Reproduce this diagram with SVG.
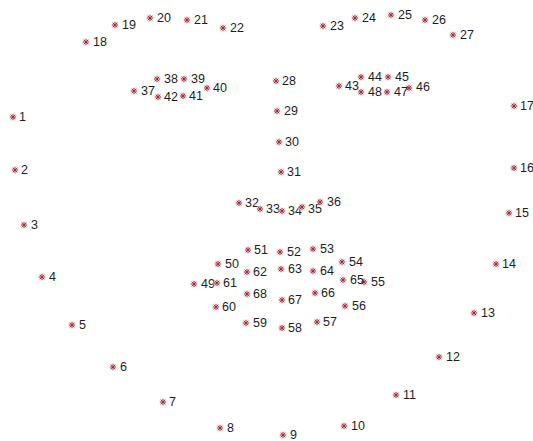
<svg xmlns="http://www.w3.org/2000/svg" xmlns:xlink="http://www.w3.org/1999/xlink" width="533" height="441" viewBox="0 0 533 441">
<style>
text{font-family:"Liberation Sans",Arial,sans-serif;font-size:12.5px;fill:#1e1e1e}
.m line{stroke:#9a2a3c;stroke-width:0.9}
</style>
<defs>
<g id="m" class="m">
<circle r="3.8" fill="#f3c9cf" opacity="0.6"/>
<line x1="-3" y1="0" x2="3" y2="0"/>
<line x1="0" y1="-3" x2="0" y2="3"/>
<line x1="-2.2" y1="-2.2" x2="2.2" y2="2.2"/>
<line x1="-2.2" y1="2.2" x2="2.2" y2="-2.2"/>
</g>
</defs>
<rect width="533" height="441" fill="#fff"/>
<g id="p1"><use xlink:href="#m" x="13" y="117"/><text x="19" y="121">1</text></g>
<g id="p2"><use xlink:href="#m" x="15" y="170"/><text x="21" y="174">2</text></g>
<g id="p3"><use xlink:href="#m" x="24" y="225"/><text x="31" y="229">3</text></g>
<g id="p4"><use xlink:href="#m" x="42" y="277"/><text x="49" y="281">4</text></g>
<g id="p5"><use xlink:href="#m" x="72" y="325"/><text x="79" y="329">5</text></g>
<g id="p6"><use xlink:href="#m" x="113" y="367"/><text x="120" y="371">6</text></g>
<g id="p7"><use xlink:href="#m" x="163" y="402"/><text x="169" y="406">7</text></g>
<g id="p8"><use xlink:href="#m" x="220" y="428"/><text x="227" y="432">8</text></g>
<g id="p9"><use xlink:href="#m" x="283" y="435"/><text x="290" y="439">9</text></g>
<g id="p10"><use xlink:href="#m" x="344" y="426"/><text x="351" y="430">10</text></g>
<g id="p11"><use xlink:href="#m" x="396" y="395"/><text x="403" y="399">11</text></g>
<g id="p12"><use xlink:href="#m" x="439" y="357"/><text x="446" y="361">12</text></g>
<g id="p13"><use xlink:href="#m" x="474" y="313"/><text x="481" y="317">13</text></g>
<g id="p14"><use xlink:href="#m" x="496" y="264"/><text x="502" y="268">14</text></g>
<g id="p15"><use xlink:href="#m" x="509" y="213"/><text x="515" y="217">15</text></g>
<g id="p16"><use xlink:href="#m" x="514" y="168"/><text x="520" y="172">16</text></g>
<g id="p17"><use xlink:href="#m" x="514" y="106"/><text x="520" y="110">17</text></g>
<g id="p18"><use xlink:href="#m" x="86" y="42"/><text x="93" y="46">18</text></g>
<g id="p19"><use xlink:href="#m" x="115" y="25"/><text x="122" y="29">19</text></g>
<g id="p20"><use xlink:href="#m" x="150" y="18"/><text x="157" y="22">20</text></g>
<g id="p21"><use xlink:href="#m" x="187" y="20"/><text x="194" y="24">21</text></g>
<g id="p22"><use xlink:href="#m" x="223" y="28"/><text x="230" y="32">22</text></g>
<g id="p23"><use xlink:href="#m" x="323" y="26"/><text x="330" y="30">23</text></g>
<g id="p24"><use xlink:href="#m" x="355" y="18"/><text x="362" y="22">24</text></g>
<g id="p25"><use xlink:href="#m" x="391" y="15"/><text x="398" y="19">25</text></g>
<g id="p26"><use xlink:href="#m" x="425" y="20"/><text x="432" y="24">26</text></g>
<g id="p27"><use xlink:href="#m" x="453" y="35"/><text x="460" y="39">27</text></g>
<g id="p28"><use xlink:href="#m" x="276" y="81"/><text x="282" y="85">28</text></g>
<g id="p29"><use xlink:href="#m" x="277" y="111"/><text x="284" y="115">29</text></g>
<g id="p30"><use xlink:href="#m" x="279" y="142"/><text x="285" y="146">30</text></g>
<g id="p31"><use xlink:href="#m" x="281" y="172"/><text x="287" y="176">31</text></g>
<g id="p32"><use xlink:href="#m" x="239" y="203"/><text x="245" y="207">32</text></g>
<g id="p33"><use xlink:href="#m" x="260" y="209"/><text x="266" y="213">33</text></g>
<g id="p34"><use xlink:href="#m" x="282" y="211"/><text x="288" y="215">34</text></g>
<g id="p35"><use xlink:href="#m" x="302" y="207"/><text x="308" y="213">35</text></g>
<g id="p36"><use xlink:href="#m" x="320" y="202"/><text x="327" y="206">36</text></g>
<g id="p37"><use xlink:href="#m" x="134" y="91"/><text x="141" y="95">37</text></g>
<g id="p38"><use xlink:href="#m" x="157" y="79"/><text x="164" y="83">38</text></g>
<g id="p39"><use xlink:href="#m" x="184" y="79"/><text x="191" y="83">39</text></g>
<g id="p40"><use xlink:href="#m" x="207" y="88"/><text x="213" y="92">40</text></g>
<g id="p41"><use xlink:href="#m" x="183" y="96"/><text x="189" y="100">41</text></g>
<g id="p42"><use xlink:href="#m" x="158" y="97"/><text x="164" y="101">42</text></g>
<g id="p43"><use xlink:href="#m" x="339" y="86"/><text x="345" y="90">43</text></g>
<g id="p44"><use xlink:href="#m" x="361" y="77"/><text x="368" y="81">44</text></g>
<g id="p45"><use xlink:href="#m" x="388" y="77"/><text x="395" y="81">45</text></g>
<g id="p46"><use xlink:href="#m" x="409" y="88"/><text x="416" y="91">46</text></g>
<g id="p47"><use xlink:href="#m" x="387" y="92"/><text x="394" y="96">47</text></g>
<g id="p48"><use xlink:href="#m" x="361" y="92"/><text x="368" y="96">48</text></g>
<g id="p49"><use xlink:href="#m" x="194" y="284"/><text x="201" y="288">49</text></g>
<g id="p50"><use xlink:href="#m" x="218" y="264"/><text x="225" y="268">50</text></g>
<g id="p51"><use xlink:href="#m" x="248" y="250"/><text x="254" y="254">51</text></g>
<g id="p52"><use xlink:href="#m" x="280" y="252"/><text x="287" y="256">52</text></g>
<g id="p53"><use xlink:href="#m" x="313" y="249"/><text x="320" y="253">53</text></g>
<g id="p54"><use xlink:href="#m" x="342" y="262"/><text x="349" y="266">54</text></g>
<g id="p55"><use xlink:href="#m" x="364" y="282"/><text x="371" y="286">55</text></g>
<g id="p56"><use xlink:href="#m" x="345" y="306"/><text x="352" y="310">56</text></g>
<g id="p57"><use xlink:href="#m" x="317" y="322"/><text x="323" y="326">57</text></g>
<g id="p58"><use xlink:href="#m" x="282" y="328"/><text x="288" y="332">58</text></g>
<g id="p59"><use xlink:href="#m" x="246" y="323"/><text x="253" y="327">59</text></g>
<g id="p60"><use xlink:href="#m" x="216" y="307"/><text x="222" y="311">60</text></g>
<g id="p61"><use xlink:href="#m" x="217" y="283"/><text x="223" y="287">61</text></g>
<g id="p62"><use xlink:href="#m" x="247" y="272"/><text x="253" y="276">62</text></g>
<g id="p63"><use xlink:href="#m" x="281" y="269"/><text x="288" y="273">63</text></g>
<g id="p64"><use xlink:href="#m" x="313" y="271"/><text x="320" y="275">64</text></g>
<g id="p65"><use xlink:href="#m" x="343" y="280"/><text x="350" y="284">65</text></g>
<g id="p66"><use xlink:href="#m" x="315" y="293"/><text x="321" y="297">66</text></g>
<g id="p67"><use xlink:href="#m" x="282" y="300"/><text x="288" y="304">67</text></g>
<g id="p68"><use xlink:href="#m" x="247" y="294"/><text x="253" y="298">68</text></g>
<g id="connectors"/>
</svg>
